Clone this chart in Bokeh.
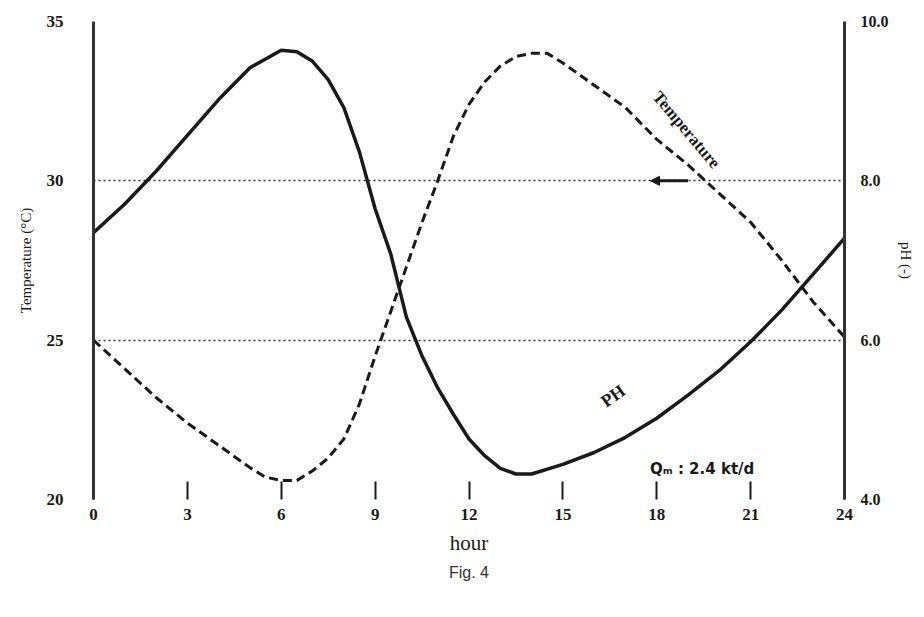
from bokeh.plotting import figure
from bokeh.models import (Range1d, LinearAxis, FixedTicker, Label, Arrow,
                          NormalHead, Title, PrintfTickFormatter)
from bokeh.embed import file_html
from bokeh.resources import INLINE

# ---- data ----
hour_ticks = [0, 3, 6, 9, 12, 15, 18, 21, 24]
temp_ticks = [20, 25, 30, 35]
ph_ticks = [4, 6, 8, 10]

hours_temp = [0, 1, 2, 3, 4, 5, 5.5, 6, 6.5, 7, 7.5, 8, 8.5, 9, 9.5, 10, 10.5,
              11, 11.5, 12, 12.5, 13, 13.5, 14, 14.5, 15, 16, 17, 18, 19, 20,
              21, 22, 23, 24]
temperature = [25.0, 24.1, 23.2, 22.4, 21.7, 21.0, 20.7, 20.6, 20.6, 20.9,
               21.3, 21.9, 23.0, 24.5, 25.9, 27.3, 28.7, 30.0, 31.4, 32.4,
               33.1, 33.6, 33.9, 34.0, 34.0, 33.7, 33.0, 32.3, 31.3, 30.5,
               29.6, 28.7, 27.5, 26.2, 25.1]

hours_ph = [0, 1, 2, 3, 4, 5, 6, 6.5, 7, 7.5, 8, 8.5, 9, 9.5, 10, 10.5, 11,
            11.5, 12, 12.5, 13, 13.5, 14, 15, 16, 17, 18, 19, 20, 21, 22, 23, 24]
ph = [7.35, 7.71, 8.12, 8.57, 9.02, 9.42, 9.64, 9.62, 9.50, 9.27, 8.92, 8.36,
      7.65, 7.08, 6.29, 5.80, 5.40, 5.07, 4.76, 4.55, 4.39, 4.32, 4.32, 4.44,
      4.59, 4.78, 5.02, 5.31, 5.62, 5.98, 6.38, 6.83, 7.28]

grid_levels = [25, 30]

SERIF = "Liberation Serif"
INK = "#1a1a1a"

p = figure(width=916, height=600, output_backend="svg", toolbar_location=None,
           x_range=Range1d(0, 24), y_range=Range1d(20, 35),
           min_border_left=93, min_border_right=67, min_border_top=21,
           min_border_bottom=101)
p.extra_y_ranges = {"ph": Range1d(4, 10)}
p.outline_line_color = None
p.background_fill_color = "white"
p.border_fill_color = "white"

# grid: only dotted lines at 25 and 30
p.xgrid.visible = False
p.ygrid.ticker = FixedTicker(ticks=grid_levels)
p.ygrid.grid_line_color = "#333333"
p.ygrid.grid_line_dash = "2 3"
p.ygrid.grid_line_width = 1.5

# x axis
xa = p.xaxis[0]
xa.ticker = FixedTicker(ticks=hour_ticks)
xa.axis_line_color = None
xa.major_tick_in = 18
xa.major_tick_out = 0
xa.major_tick_line_width = 2
xa.major_tick_line_color = INK
xa.minor_tick_line_color = None
xa.major_label_standoff = 9
xa.major_label_text_font = SERIF
xa.major_label_text_font_style = "bold"
xa.major_label_text_font_size = "17px"
xa.major_label_text_color = INK
xa.axis_label = "hour"
xa.axis_label_text_font = SERIF
xa.axis_label_text_font_style = "normal"
xa.axis_label_text_font_size = "21px"
xa.axis_label_text_color = INK
xa.axis_label_standoff = 8

# left axis (temperature)
ya = p.yaxis[0]
ya.ticker = FixedTicker(ticks=temp_ticks)
ya.axis_line_width = 3
ya.axis_line_color = "#333333"
ya.major_tick_line_color = None
ya.minor_tick_line_color = None
ya.major_label_standoff = 24
ya.major_label_text_font = SERIF
ya.major_label_text_font_style = "bold"
ya.major_label_text_font_size = "17px"
ya.major_label_text_color = INK
ya.axis_label = "Temperature (°C)"
ya.axis_label_text_font = SERIF
ya.axis_label_text_font_style = "normal"
ya.axis_label_text_font_size = "15px"
ya.axis_label_text_color = INK
ya.axis_label_standoff = 10

# right axis (pH)
ra = LinearAxis(y_range_name="ph", ticker=FixedTicker(ticks=ph_ticks),
                formatter=PrintfTickFormatter(format="%.1f"))
ra.axis_line_width = 3
ra.axis_line_color = "#333333"
ra.major_tick_line_color = None
ra.minor_tick_line_color = None
ra.major_label_standoff = 10
ra.major_label_text_font = SERIF
ra.major_label_text_font_style = "bold"
ra.major_label_text_font_size = "16px"
ra.major_label_text_color = INK
ra.axis_label = "pH (-)"
ra.axis_label_text_font = SERIF
ra.axis_label_text_font_style = "normal"
ra.axis_label_text_font_size = "15px"
ra.axis_label_text_color = INK
ra.axis_label_standoff = 6
p.add_layout(ra, "right")

# curves
p.line(hours_temp, temperature, line_color=INK, line_width=3, line_dash="9 5")
p.line(hours_ph, ph, y_range_name="ph", line_color=INK, line_width=3.5)

# annotations
p.add_layout(Label(x=18.95, y=31.6, text="Temperature", angle=-0.87,
                   text_align="center", text_baseline="middle",
                   text_font=SERIF, text_font_style="bold",
                   text_font_size="17px", text_color=INK))
p.add_layout(Label(x=16.6, y=23.25, text="PH", angle=0.62,
                   text_align="center", text_baseline="middle",
                   text_font=SERIF, text_font_style="bold",
                   text_font_size="18px", text_color=INK))
p.add_layout(Label(x=19.45, y=20.95, text="Qₘ : 2.4 kt/d",
                   text_align="center", text_baseline="middle",
                   text_font="DejaVu Sans", text_font_style="bold",
                   text_font_size="15px", text_color=INK))
p.add_layout(Arrow(x_start=19.0, y_start=30, x_end=17.8, y_end=30,
                   line_width=3, line_color=INK,
                   end=NormalHead(size=9, fill_color=INK, line_color=INK)))

fig_title = Title(text="Fig. 4", align="center", text_font="Liberation Sans",
                  text_font_style="normal", text_font_size="16px",
                  text_color="#333333", standoff=8)
p.add_layout(fig_title, "below")

open("out.html", "w").write(file_html(p, INLINE))
